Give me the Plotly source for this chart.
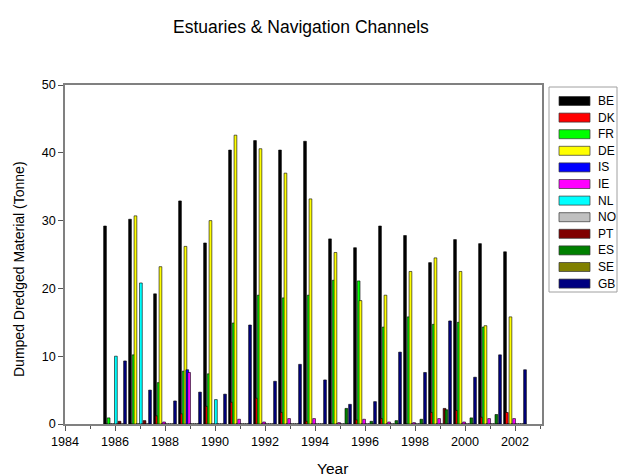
import plotly.graph_objects as go

years = list(range(1986, 2003))

countries = ["BE", "DK", "FR", "DE", "IS", "IE", "NL", "NO", "PT", "ES", "SE", "GB"]
colors = ["#000000", "#FF0000", "#00FF00", "#FFFF00", "#0000FF", "#FF00FF",
          "#00FFFF", "#C0C0C0", "#800000", "#008000", "#808000", "#000080"]

#        1986 1987 1988 1989 1990 1991 1992 1993 1994 1995 1996 1997 1998 1999 2000 2001 2002
BE = [29.2, 30.2, 19.2, 32.9, 26.7, 40.4, 41.8, 40.4, 41.7, 27.3, 26.0, 29.2, 27.8, 23.8, 27.2, 26.6, 25.4]
DK = [0.0, 0.0, 1.2, 1.5, 2.6, 3.2, 3.8, 1.7, 0.4, 0.0, 0.6, 0.8, 0.0, 1.7, 2.0, 1.0, 1.7]
FR = [0.9, 10.2, 6.1, 7.8, 7.4, 14.9, 19.0, 18.6, 19.0, 21.2, 21.1, 14.3, 15.8, 14.7, 15.0, 14.3, 0.0]
DE = [0.0, 30.7, 23.2, 26.2, 30.0, 42.6, 40.6, 37.0, 33.2, 25.3, 18.2, 19.0, 22.5, 24.5, 22.5, 14.5, 15.8]
IS = [0.0, 0.0, 0.0, 8.0, 0.0, 0.0, 0.0, 0.0, 0.0, 0.0, 0.0, 0.0, 0.0, 0.0, 0.0, 0.0, 0.0]
IE = [0.0, 0.0, 0.3, 7.6, 0.0, 0.7, 0.3, 0.8, 0.8, 0.2, 0.7, 0.3, 0.2, 0.8, 0.3, 0.8, 0.8]
NL = [10.0, 20.8, 0.0, 0.0, 3.6, 0.0, 0.0, 0.0, 0.0, 0.0, 0.0, 0.0, 0.0, 0.0, 0.0, 0.0, 0.0]
NO = [0.0] * 17
PT = [0.4, 0.5, 0.0, 0.0, 0.0, 0.0, 0.0, 0.0, 0.0, 0.0, 0.0, 0.0, 0.0, 2.3, 0.0, 0.0, 0.0]
ES = [0.0, 0.0, 0.0, 0.0, 0.0, 0.0, 0.0, 0.0, 0.0, 2.3, 0.4, 0.5, 0.7, 2.1, 0.9, 1.4, 0.0]
SE = [0.0] * 17
GB = [9.3, 5.0, 3.4, 4.7, 4.4, 14.6, 6.3, 8.8, 6.5, 2.9, 3.3, 10.6, 7.6, 15.2, 6.9, 10.2, 8.0]

series = [BE, DK, FR, DE, IS, IE, NL, NO, PT, ES, SE, GB]

FONT = "Liberation Sans, Arial, sans-serif"

fig = go.Figure()
n = len(countries)
group_w = 0.8
step = group_w / (n - 1)
bar_w = 0.11
for i, (name, vals, col) in enumerate(zip(countries, series, colors)):
    fig.add_trace(go.Bar(
        x=years, y=vals, name=name,
        marker=dict(color=col, line=dict(color="#000000", width=0.6)),
        width=bar_w,
        offset=-group_w / 2 + i * step - bar_w / 2,
        showlegend=False,
    ))

# body margin is removed by post_script, so figure pixels == window pixels
W, H = 621, 476
L, R, T, B = 65, 542, 85, 424
pw, ph = R - L, B - T

def px2x(px):
    return (px - L) / pw

def py2y(py):
    return (B - py) / ph

shapes = []
annotations = []
# legend box
shapes.append(dict(type="rect", xref="paper", yref="paper",
                   x0=px2x(549), x1=px2x(617), y0=py2y(292), y1=py2y(87),
                   line=dict(color="#a0a0a0", width=1), fillcolor="white"))
for i, (name, col) in enumerate(zip(countries, colors)):
    cy = 101 + i * 16.6
    shapes.append(dict(type="rect", xref="paper", yref="paper",
                       x0=px2x(559), x1=px2x(590), y0=py2y(cy + 4.5), y1=py2y(cy - 4.5),
                       line=dict(color="#333333", width=0.7), fillcolor=col))
    annotations.append(dict(text=name, xref="paper", yref="paper",
                            x=px2x(596), y=py2y(cy), xanchor="left", yanchor="middle",
                            showarrow=False, font=dict(family=FONT, size=12, color="#000000")))

# titles
annotations.append(dict(text="Estuaries & Navigation Channels", xref="paper", yref="paper",
                        x=px2x(301), y=py2y(27), xanchor="center", yanchor="middle",
                        showarrow=False, font=dict(family=FONT, size=17.5, color="#000000")))
annotations.append(dict(text="Year", xref="paper", yref="paper",
                        x=px2x(332), y=py2y(468), xanchor="center", yanchor="middle",
                        showarrow=False, font=dict(family=FONT, size=15.5, color="#000000")))
annotations.append(dict(text="Dumped Dredged Material (Tonne)", xref="paper", yref="paper",
                        x=px2x(19), y=py2y(269), xanchor="center", yanchor="middle",
                        textangle=-90,
                        showarrow=False, font=dict(family=FONT, size=14, color="#000000")))

fig.update_layout(
    width=W, height=H,
    margin=dict(l=L, r=W - R, t=T, b=H - B, pad=0),
    paper_bgcolor="white", plot_bgcolor="white",
    barmode="overlay",
    font=dict(family=FONT, size=12, color="#000000"),
    shapes=shapes,
    annotations=annotations,
    xaxis=dict(range=[1984, 2003.08], tickmode="linear", tick0=1984, dtick=2,
               ticks="outside", ticklen=5, tickwidth=1, tickcolor="#555555",
               minor=dict(ticks="outside", dtick=1, tick0=1984, ticklen=3, tickcolor="#555555"),
               showline=True, linecolor="#808080", linewidth=1.5, mirror=True,
               showgrid=False, zeroline=False, automargin=False,
               tickfont=dict(family=FONT, size=12.6)),
    yaxis=dict(range=[0, 50], tickmode="linear", tick0=0, dtick=10,
               ticks="outside", ticklen=5, tickwidth=1, tickcolor="#555555",
               showline=True, linecolor="#808080", linewidth=1.5, mirror=True,
               showgrid=False, zeroline=False, automargin=False,
               tickfont=dict(family=FONT, size=12.6)),
)

fig.write_html(
    "out.html",
    config={"displayModeBar": False},
    post_script="document.body.style.margin='0';document.body.style.overflow='hidden';"
                "document.documentElement.style.overflow='hidden';",
)
